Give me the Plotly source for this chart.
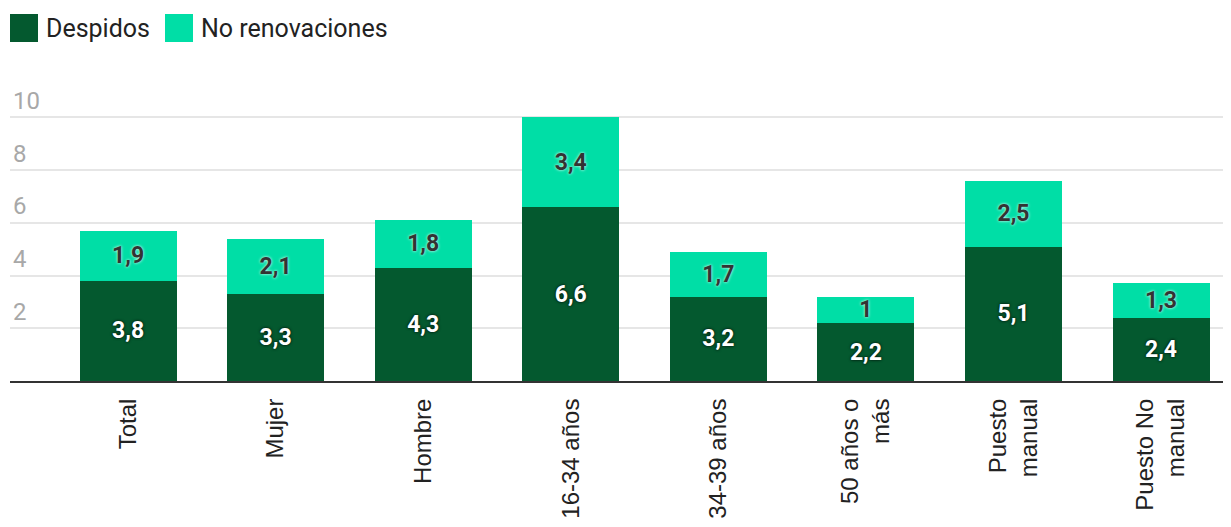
import plotly.graph_objects as go

categories = ["Total", "Mujer", "Hombre", "16-34 años", "34-39 años",
              "50 años o<br>más", "Puesto<br>manual", "Puesto No<br>manual"]
despidos = [3.8, 3.3, 4.3, 6.6, 3.2, 2.2, 5.1, 2.4]
no_renovaciones = [1.9, 2.1, 1.8, 3.4, 1.7, 1, 2.5, 1.3]
y_ticks = [2, 4, 6, 8, 10]

dark = "#04592f"
light = "#00dea6"
font = "Roboto"
xfont = "Liberation Sans"

# page has an 8px body margin: figure coordinates = page coordinates - 8
OFF = 8
W, H = 1231 - OFF, 527 - OFF
ml, mr, mt, mb = 10 - OFF, 0, 80 - OFF, 146
pw, ph = W - ml - mr, H - mt - mb


def px_x(p):
    return (p - OFF - ml) / pw


def px_y(p):
    return (H - mb - (p - OFF)) / ph


fig = go.Figure()
fig.add_trace(go.Bar(
    x=categories, y=despidos, name="Despidos", marker_color=dark,
    marker_line_width=0, width=0.657,
    texttemplate="%{y}", textposition="inside", insidetextanchor="middle",
    textangle=0, constraintext="none",
    textfont=dict(family=font, size=23, color="white", weight="bold",
                  shadow="0px 0px 3px #000"),
    showlegend=False,
))
fig.add_trace(go.Bar(
    x=categories, y=no_renovaciones, name="No renovaciones", marker_color=light,
    marker_line_width=0, width=0.657,
    texttemplate="%{y}", textposition="inside", insidetextanchor="middle",
    textangle=0, constraintext="none",
    textfont=dict(family=font, size=23, color="#333333", weight="bold",
                  shadow="0px 0px 3px #fff"),
    showlegend=False,
))

# custom legend (page pixel positions)
legend_items = [("Despidos", dark, 10), ("No renovaciones", light, 165)]
shapes = []
annotations = []
for label, color, x0 in legend_items:
    shapes.append(dict(type="rect", xref="paper", yref="paper",
                       x0=px_x(x0), x1=px_x(x0 + 28), y0=px_y(42), y1=px_y(14),
                       fillcolor=color, line=dict(width=0)))
    annotations.append(dict(xref="paper", yref="paper", x=px_x(x0 + 34), y=px_y(29),
                            text=label, showarrow=False, xanchor="left", yanchor="middle",
                            font=dict(family=font, size=25, color="#222222")))

fig.update_layout(
    barmode="stack",
    width=W, height=H,
    margin=dict(l=ml, r=mr, t=mt, b=mb),
    paper_bgcolor="white", plot_bgcolor="white",
    separators=",.",
    font=dict(family=font),
    shapes=shapes,
    annotations=annotations,
    xaxis=dict(
        range=[-0.8, 7.474],
        tickangle=-90,
        tickfont=dict(family=xfont, size=24, color="#222222"),
        ticks="outside", ticklen=6, tickcolor="rgba(0,0,0,0)",
        showline=True, linecolor="#333333", linewidth=2,
        showgrid=False,
    ),
    yaxis=dict(
        range=[0, 11.417],
        tickvals=y_ticks,
        ticklabelposition="inside top",
        tickfont=dict(family=font, size=24, color="#a8a8a8"),
        gridcolor="#e6e6e6", gridwidth=2,
        zeroline=False,
        showline=False,
    ),
)

fig.write_html("out.html")
